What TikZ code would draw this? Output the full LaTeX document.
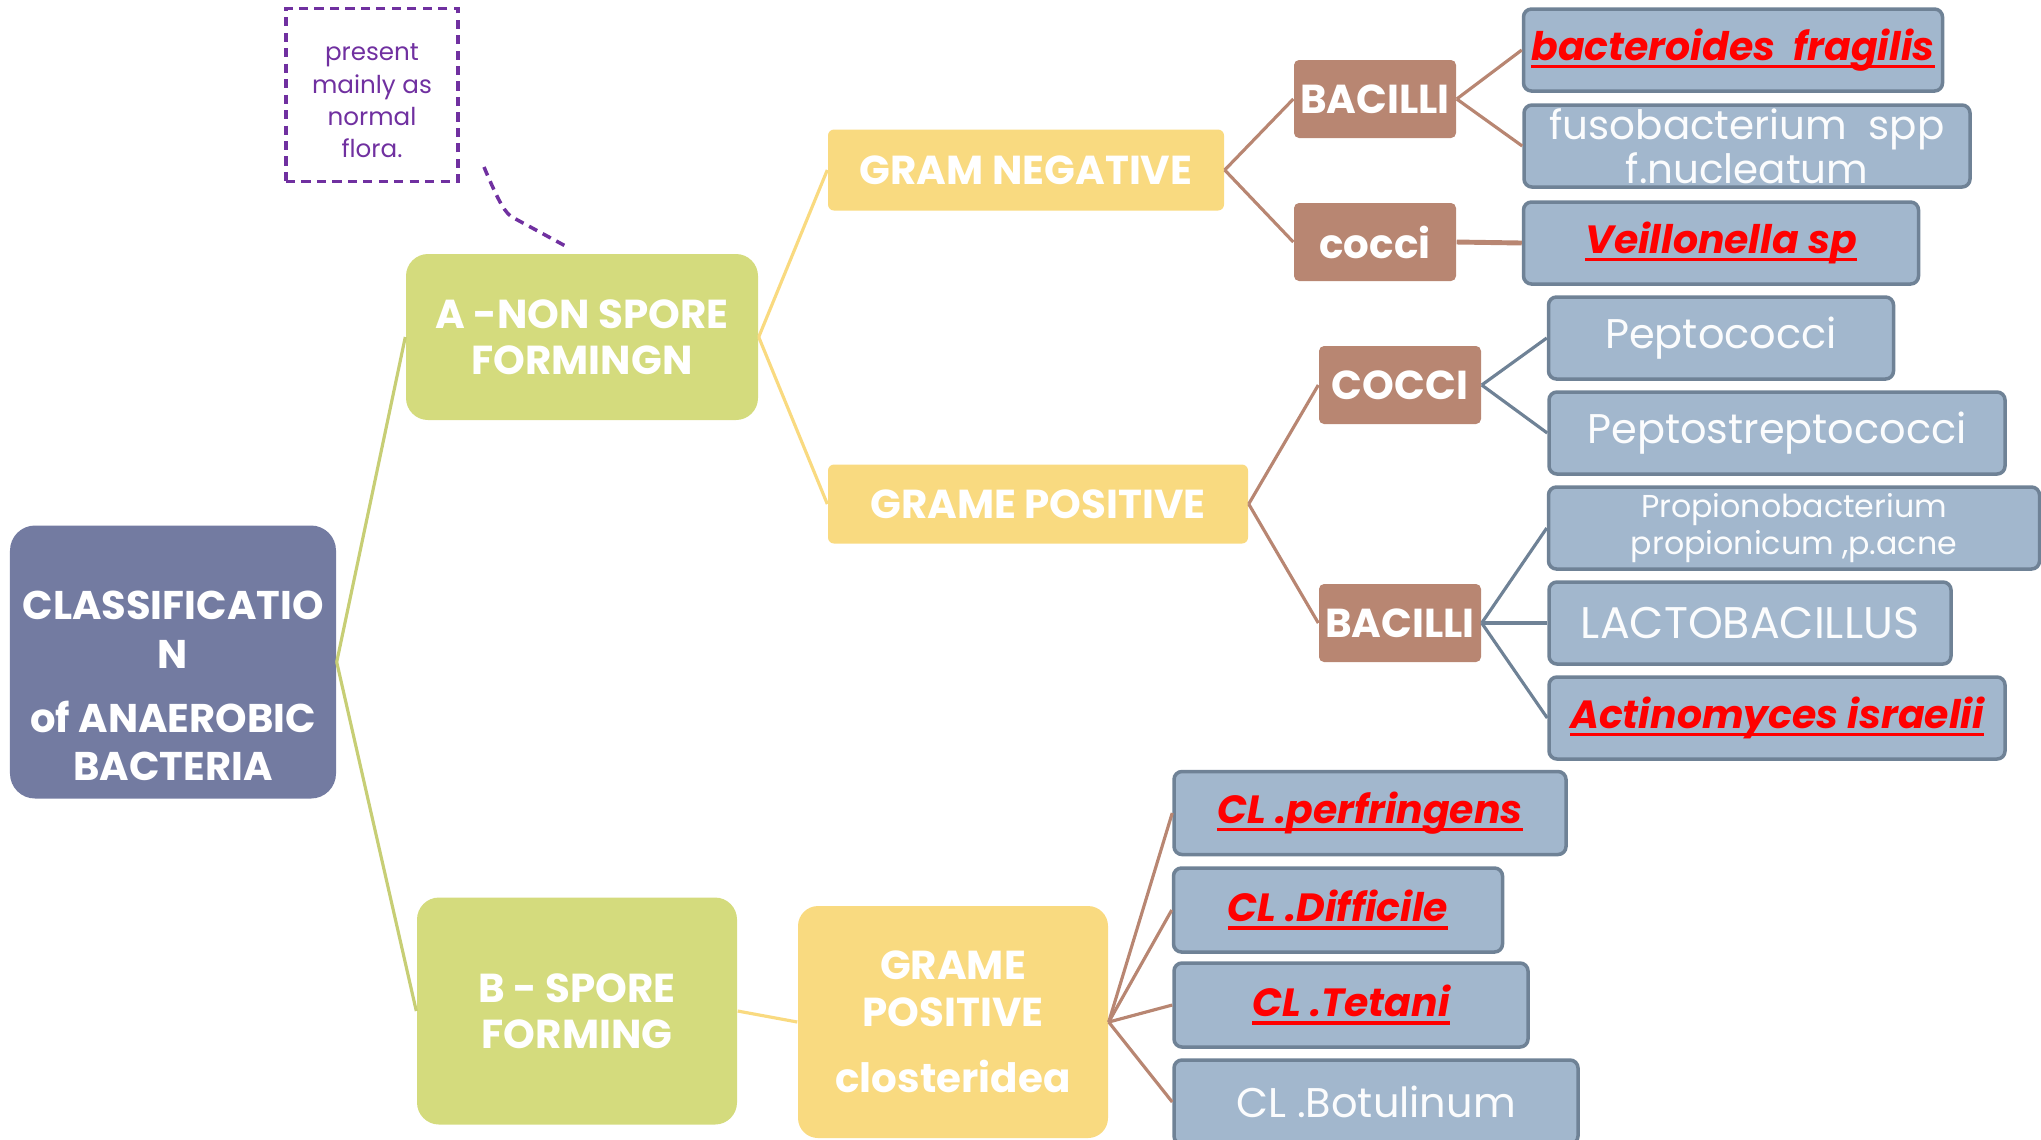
\documentclass[tikz,border=0pt]{standalone}
\usepackage{fontspec}
\setmainfont{Poppins}

\definecolor{rootblue}{RGB}{115,123,161}
\definecolor{limegreen}{RGB}{212,219,125}
\definecolor{sand}{RGB}{249,218,128}
\definecolor{clay}{RGB}{184,134,114}
\definecolor{slatefill}{RGB}{162,183,205}
\definecolor{slateedge}{RGB}{111,130,150}
\definecolor{notepurple}{RGB}{112,48,160}
\definecolor{keyred}{RGB}{255,0,0}

% red, bold italic, thick underline
\newcommand{\keyname}[1]{{\color{keyred}\fontsize{11.2}{12}\selectfont\bfseries\itshape
  \setbox0\hbox{#1}\rlap{\rule[-2.2pt]{\wd0}{0.95pt}}\box0}}

\begin{document}
\begin{tikzpicture}[
  box/.style={align=center,text=white,inner sep=0pt},
  rootbox/.style={box,fill=rootblue,rounded corners=0.25cm,
    minimum width=3.26cm,minimum height=2.73cm,
    font=\bfseries\fontsize{11.4}{13.7}\selectfont},
  greenbox/.style={box,fill=limegreen,rounded corners=0.22cm,
    font=\bfseries\fontsize{11.5}{13}\selectfont},
  yellowbox/.style={box,fill=sand,rounded corners=0.06cm,
    font=\bfseries\fontsize{11.5}{13.3}\selectfont},
  brownbox/.style={box,fill=clay,rounded corners=0.05cm,
    minimum width=1.62cm,minimum height=0.78cm,
    font=\bfseries\fontsize{11.5}{13}\selectfont},
  leafbox/.style={box,draw=slateedge,line width=1pt,fill=slatefill,
    rounded corners=0.08cm,minimum height=0.82cm,
    text=white!96!slatefill,font=\fontsize{11.8}{12.5}\selectfont},
  notebox/.style={draw=notepurple,line width=1pt,dash pattern=on 2.6pt off 1.8pt,
    text=notepurple,align=center,font=\fontsize{7}{9.2}\selectfont},
  greenline/.style={draw=limegreen!94!black,line width=0.9pt},
  yellowline/.style={draw=sand,line width=0.9pt},
  brownline/.style={draw=clay,line width=0.9pt},
  slateline/.style={draw=slateedge,line width=0.9pt}]

\useasboundingbox (0,0) rectangle (20.41,-11.39);

% root and first split
\draw (1.73,-6.62) node[rootbox] (root)
  {\mbox{}\\[8pt]CLASSIFICATIO\\N\\[4.5pt]of ANAEROBIC\\BACTERIA};
\draw (5.82,-3.37) node[greenbox,minimum width=3.52cm,minimum height=1.66cm] (nonspore)
  {A -NON SPORE\\FORMINGN};
\draw (5.77,-10.11) node[greenbox,minimum width=3.20cm,minimum height=2.27cm] (spore)
  {B - SPORE\\FORMING};
\draw (3.72,-0.95) node[notebox,minimum width=1.72cm,minimum height=1.73cm] (note)
  {\mbox{}\\[-1pt]present\\mainly as\\normal\\flora.};

% gram groups
\draw (10.26,-1.70) node[yellowbox,minimum width=3.96cm,minimum height=0.81cm] (gramneg)
  {GRAM NEGATIVE};
\draw (10.38,-5.04) node[yellowbox,minimum width=4.20cm,minimum height=0.79cm] (grampos)
  {GRAME POSITIVE};
\draw (9.53,-10.22) node[yellowbox,rounded corners=0.2cm,minimum width=3.10cm,minimum height=2.32cm] (clost)
  {GRAME\\POSITIVE\\[5.5pt]closteridea};

% shapes
\draw (13.75,-0.99) node[brownbox] (negbac) {BACILLI};
\draw (13.75,-2.42) node[brownbox] (negcoc) {cocci};
\draw (14.00,-3.85) node[brownbox] (poscoc) {COCCI};
\draw (14.00,-6.23) node[brownbox] (posbac) {BACILLI};

% species
\draw (17.33,-0.50) node[leafbox,minimum width=4.19cm] (fragilis)
  {\keyname{bacteroides\ \ fragilis}};
\draw (17.47,-1.46) node[leafbox,minimum width=4.46cm,
  font=\fontsize{11.5}{12.5}\selectfont] (fuso)
  {fusobacterium\ \ spp\\f.nucleatum};
\draw (17.21,-2.43) node[leafbox,minimum width=3.95cm] (veil)
  {\keyname{Veillonella sp}};
\draw (17.21,-3.38) node[leafbox,minimum width=3.45cm] (pepto)
  {Peptococci};
\draw (17.77,-4.33) node[leafbox,minimum width=4.56cm] (peptostrep)
  {Peptostreptococci};
\draw (17.94,-5.28) node[leafbox,minimum width=4.91cm,
  font=\fontsize{9}{10.4}\selectfont] (propioni)
  {Propionobacterium\\propionicum ,p.acne};
\draw (17.50,-6.23) node[leafbox,minimum width=4.02cm,
  font=\fontsize{12.6}{14}\selectfont] (lacto)
  {LACTOBACILLUS};
\draw (17.77,-7.18) node[leafbox,minimum width=4.56cm] (actino)
  {\keyname{Actinomyces israelii}};
\draw (13.70,-8.13) node[leafbox,minimum width=3.92cm,minimum height=0.83cm] (perf)
  {\keyname{CL .perfringens}};
\draw (13.38,-9.10) node[leafbox,minimum width=3.29cm,minimum height=0.84cm] (diff)
  {\keyname{CL .Difficile}};
\draw (13.51,-10.05) node[leafbox,minimum width=3.54cm,minimum height=0.84cm] (tetani)
  {\keyname{CL .Tetani}};
\draw (13.76,-11.02) node[leafbox,minimum width=4.04cm,minimum height=0.84cm] (botu)
  {CL .Botulinum};

% connectors
\draw[greenline] (root.east)--(nonspore.west);
\draw[greenline] (root.east)--(spore.west);
\draw[yellowline] (nonspore.east)--(gramneg.west);
\draw[yellowline] (nonspore.east)--(grampos.west);
\draw[yellowline] (spore.east)--(clost.west);
\draw[brownline] (gramneg.east)--(negbac.west);
\draw[brownline] (gramneg.east)--(negcoc.west);
\draw[brownline] (grampos.east)--(poscoc.west);
\draw[brownline] (grampos.east)--(posbac.west);
\draw[brownline] (negbac.east)--(fragilis.west);
\draw[brownline] (negbac.east)--(fuso.west);
\draw[brownline,line width=1.4pt] (negcoc.east)--(veil.west);
\draw[slateline] (poscoc.east)--(pepto.west);
\draw[slateline] (poscoc.east)--(peptostrep.west);
\draw[slateline] (posbac.east)--(propioni.west);
\draw[slateline] (posbac.east)--(lacto.west);
\draw[slateline] (posbac.east)--(actino.west);
\draw[brownline] (clost.east)--(perf.west);
\draw[brownline] (clost.east)--(diff.west);
\draw[brownline] (clost.east)--(tetani.west);
\draw[brownline] (clost.east)--(botu.west);

% callout pointer
\coordinate (notetail) at (4.84,-1.67);
\draw[draw=notepurple,line width=1pt,dash pattern=on 2.6pt off 1.8pt]
  (notetail) .. controls (5.00,-2.05) and (5.05,-2.12) .. (5.12,-2.17)
  -- ([xshift=-0.16cm,yshift=0.07cm]nonspore.north);
\end{tikzpicture}
\end{document}
